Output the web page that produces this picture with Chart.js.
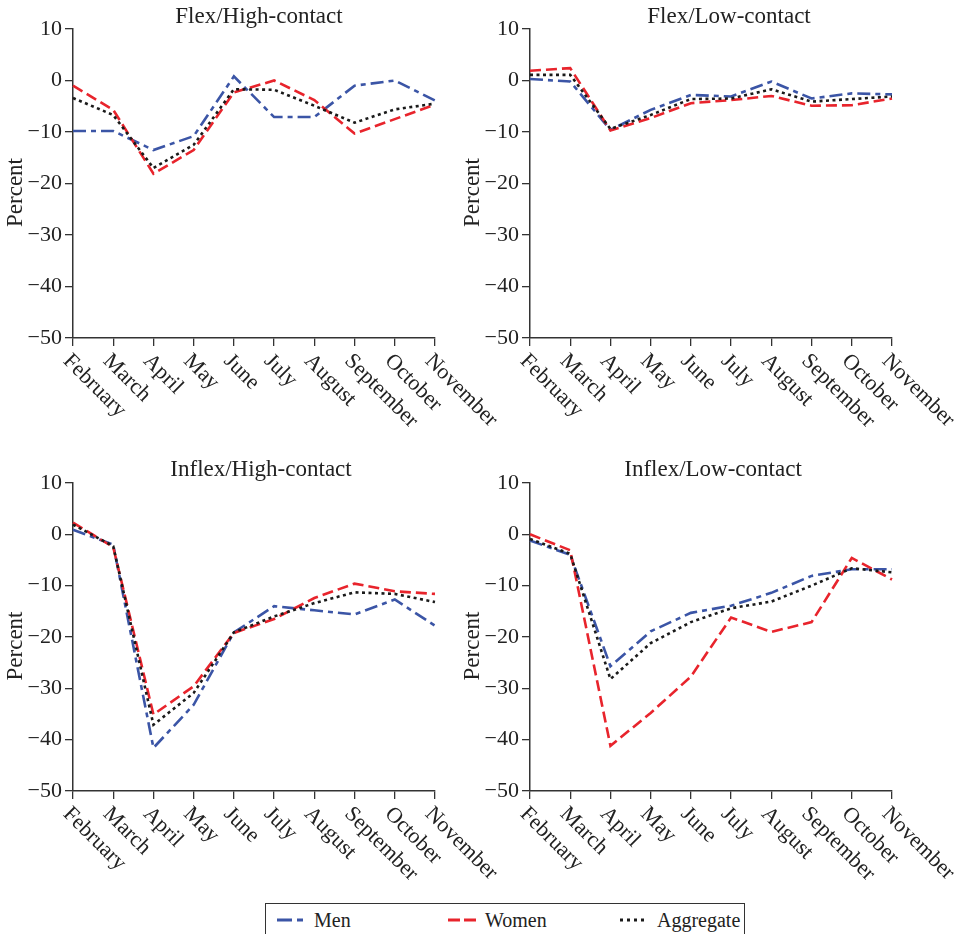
<!DOCTYPE html>
<html>
<head>
<meta charset="utf-8">
<script src="https://cdn.jsdelivr.net/npm/chart.js@4.4.1/dist/chart.umd.min.js"></script>
<style>
  html, body { margin: 0; padding: 0; background: #fff; }
  body { width: 960px; height: 934px; position: relative; overflow: hidden; }
  canvas.panel { position: absolute; }
  #legend {
    position: absolute; left: 265px; top: 903px; width: 480px; height: 44px;
    border: 1.5px solid #333; box-sizing: border-box;
    font-family: "Liberation Serif", "Times New Roman", serif; font-size: 20px; color: #222;
  }
  #legend .item { position: absolute; top: 4px; height: 24px; display: flex; align-items: center; }
  #legend canvas { margin-right: 9px; }
</style>
</head>
<body>
<div id="legend"></div>
<script>
// Months on the horizontal axis
const months = ['February', 'March', 'April', 'May', 'June', 'July', 'August', 'September', 'October', 'November'];
const yTicks = [10, 0, -10, -20, -30, -40, -50];
const seriesNames = ['Men', 'Women', 'Aggregate'];

// Flex / High-contact (percent change)
const flexHighMen       = [-9.8, -9.8, -13.5, -10.8, 0.8, -7.1, -7.1, -1.0, 0.0, -3.9];
const flexHighWomen     = [-1.0, -5.7, -18.1, -13.5, -2.3, 0.0, -3.8, -10.3, -7.5, -4.7];
const flexHighAggregate = [-3.4, -6.7, -17.0, -12.5, -1.7, -1.8, -4.9, -8.2, -5.6, -4.5];

// Flex / Low-contact
const flexLowMen        = [0.3, -0.2, -9.6, -5.7, -2.8, -3.1, -0.2, -3.5, -2.5, -2.7];
const flexLowWomen      = [1.9, 2.4, -9.7, -7.3, -4.4, -3.8, -3.0, -4.9, -4.8, -3.5];
const flexLowAggregate  = [1.1, 1.1, -9.4, -6.7, -3.6, -3.5, -1.7, -4.1, -3.6, -3.1];

// Inflex / High-contact
const inflexHighMen       = [0.9, -2.0, -41.6, -33.2, -19.1, -14.0, -14.8, -15.6, -12.7, -17.8];
const inflexHighWomen     = [2.3, -2.5, -35.1, -29.6, -19.2, -16.5, -12.4, -9.6, -11.1, -11.6];
const inflexHighAggregate = [1.9, -2.3, -37.1, -30.9, -19.1, -16.0, -13.4, -11.3, -11.6, -13.2];

// Inflex / Low-contact
const inflexLowMen       = [-1.2, -4.0, -25.7, -18.9, -15.3, -13.9, -11.4, -8.1, -6.8, -6.8];
const inflexLowWomen     = [0.0, -3.1, -41.2, -34.8, -27.7, -16.2, -19.0, -17.1, -4.6, -8.8];
const inflexLowAggregate = [-0.9, -3.8, -28.2, -21.2, -17.1, -14.4, -13.1, -10.0, -6.6, -7.4];

const panelTitles = ['Flex/High-contact', 'Flex/Low-contact', 'Inflex/High-contact', 'Inflex/Low-contact'];

const FONT = '"Liberation Serif", "Times New Roman", serif';
const styles = [
  { color: '#3b55a6', dash: [13, 5, 5, 5] },   // Men: dash-dot
  { color: '#e8242c', dash: [11, 5] },         // Women: dashed
  { color: '#1a1a1a', dash: [3, 3.5] }         // Aggregate: dotted
];

// Canvas placement and plot-area geometry for each panel
const panels = [
  { title: panelTitles[0], data: [flexHighMen, flexHighWomen, flexHighAggregate],
    left: 0,   top: 0,   w: 520, h: 450, padTop: 29, padRight: 85, xH: 112, titleX: 259, titleY: 23 },
  { title: panelTitles[1], data: [flexLowMen, flexLowWomen, flexLowAggregate],
    left: 457, top: 0,   w: 503, h: 450, padTop: 29, padRight: 68, xH: 112, titleX: 272, titleY: 23 },
  { title: panelTitles[2], data: [inflexHighMen, inflexHighWomen, inflexHighAggregate],
    left: 0,   top: 450, w: 520, h: 450, padTop: 33, padRight: 85, xH: 109, titleX: 261, titleY: 26 },
  { title: panelTitles[3], data: [inflexLowMen, inflexLowWomen, inflexLowAggregate],
    left: 457, top: 450, w: 503, h: 450, padTop: 33, padRight: 68, xH: 109, titleX: 256, titleY: 26 }
];

// Draws the panel title, the rotated month labels and the "Percent" axis title
const panelText = {
  id: 'panelText',
  afterDraw(chart, args, opts) {
    const ctx = chart.ctx;
    const area = chart.chartArea;
    const xs = chart.scales.x;
    ctx.save();
    ctx.fillStyle = '#222';
    // title
    ctx.font = '23px ' + FONT;
    ctx.textAlign = 'center';
    ctx.textBaseline = 'alphabetic';
    ctx.fillText(opts.title, opts.titleX, opts.titleY);
    // y axis title
    ctx.save();
    ctx.translate(16, (area.top + area.bottom) / 2 + 9);
    ctx.rotate(-Math.PI / 2);
    ctx.font = '23px ' + FONT;
    ctx.textBaseline = 'middle';
    ctx.fillText('Percent', 0, 0);
    ctx.restore();
    // month labels, rotated 45 degrees clockwise
    ctx.font = '22px ' + FONT;
    ctx.textAlign = 'left';
    ctx.textBaseline = 'top';
    xs.ticks.forEach((t, i) => {
      const x = xs.getPixelForTick(i);
      ctx.save();
      ctx.translate(x + 1, area.bottom + 12);
      ctx.rotate(Math.PI / 4);
      ctx.fillText(months[i], 0, 0);
      ctx.restore();
    });
    ctx.restore();
  }
};

panels.forEach(p => {
  const cv = document.createElement('canvas');
  cv.className = 'panel';
  cv.width = p.w; cv.height = p.h;
  cv.style.left = p.left + 'px'; cv.style.top = p.top + 'px';
  cv.style.width = p.w + 'px'; cv.style.height = p.h + 'px';
  document.body.appendChild(cv);

  new Chart(cv.getContext('2d'), {
    type: 'line',
    data: {
      labels: months,
      datasets: p.data.map((vals, i) => ({
        label: seriesNames[i],
        data: vals,
        borderColor: styles[i].color,
        borderDash: styles[i].dash,
        borderWidth: 2.6,
        pointRadius: 0,
        tension: 0,
        fill: false,
        order: 2 - i
      }))
    },
    options: {
      responsive: false,
      animation: false,
      devicePixelRatio: 1,
      layout: { padding: { top: p.padTop, right: p.padRight, left: 0, bottom: 0 } },
      plugins: {
        legend: { display: false },
        tooltip: { enabled: false },
        panelText: { title: p.title, titleX: p.titleX, titleY: p.titleY }
      },
      scales: {
        x: {
          type: 'category',
          offset: false,
          grid: { drawOnChartArea: false, drawTicks: true, tickLength: 8, color: '#333', lineWidth: 1.3 },
          border: { display: true, color: '#333', width: 1.5 },
          ticks: { display: false, autoSkip: false },
          afterFit(s) { s.height = p.xH; }
        },
        y: {
          min: -50, max: 10,
          afterBuildTicks(s) { s.ticks = yTicks.map(v => ({ value: v })); },
          grid: { drawOnChartArea: false, drawTicks: true, tickLength: 8, color: '#333', lineWidth: 1.3 },
          border: { display: true, color: '#333', width: 1.5 },
          ticks: {
            font: { family: FONT, size: 22 },
            color: '#222',
            padding: 3,
            callback: v => String(v).replace('-', '\u2212')
          },
          afterFit(s) { s.width = 73; }
        }
      }
    },
    plugins: [panelText]
  });
});

// Legend row beneath the panels
const legend = document.getElementById('legend');
const legendLeft = [11, 182, 354];
seriesNames.forEach((name, i) => {
  const item = document.createElement('div');
  item.className = 'item';
  item.style.left = legendLeft[i] + 'px';
  const sw = document.createElement('canvas');
  sw.width = 28; sw.height = 10;
  const c = sw.getContext('2d');
  c.strokeStyle = styles[i].color;
  c.lineWidth = 3;
  c.setLineDash(i === 0 ? [15, 5, 6, 5] : i === 1 ? [12, 4] : [3, 4]);
  c.beginPath(); c.moveTo(0, 5); c.lineTo(28, 5); c.stroke();
  item.appendChild(sw);
  const span = document.createElement('span');
  span.textContent = name;
  item.appendChild(span);
  legend.appendChild(item);
});
</script>
</body>
</html>
